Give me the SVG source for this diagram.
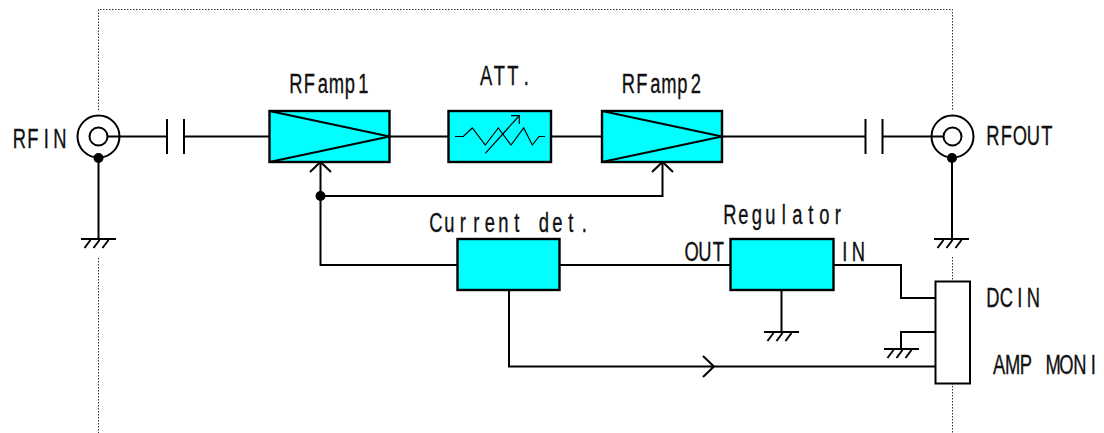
<svg xmlns="http://www.w3.org/2000/svg" width="1104" height="433" viewBox="0 0 1104 433">
<style>
.w{fill:none;stroke:#000;stroke-width:2}
.b{fill:#0ff;stroke:#000;stroke-width:2.4}
.d{fill:none;stroke:#333;stroke-width:1;stroke-dasharray:1.5 1.5}
.t{font-family:"Liberation Sans",Arial,sans-serif;font-size:27px;fill:#111;stroke:#111;stroke-width:.35}
.dot{fill:#000}
</style>
<defs>
<g id="gnd"><path class="w" d="M-17.500 0H17.500M-8 1L-14 9M1 1L-5 9M10 1L4 9"/></g>
<path id="amp" class="w" d="M0 0L120 25.500L0 51"/>
</defs>
<g id="boundary">
<path class="d" d="M98.500 110V9.500H952.500V110M98.500 258V433M952.500 257V281M952.500 383V433"/>
</g>
<g id="connectors">
<path class="w" d="M107 136.500H167M167 119V154M184 119V154M184 136.500H269"/>
<path class="w" d="M98.500 158V239"/>
<path class="w" d="M389 136.500H448M551 136.500H602M722 136.500H865.500M865.500 119V154M882.500 119V154M882.500 136.500H943"/>
<path class="w" d="M952 158V239"/>
<path class="w" d="M320.500 162V265H457M559 265H730M833 265H901V298H935"/>
<path class="w" d="M320.500 196H662.500V162"/>
<path class="w" d="M310 172L320.500 162L331 172M652 172L662.500 162L673 172"/>
<path class="w" d="M781.500 290V332M935 332H901V349"/>
<path class="w" d="M509 290V366.500H935M703 356L714 366.500L703 377"/>
<circle class="dot" cx="320.500" cy="196" r="5"/>
<use href="#gnd" x="781.500" y="332"/>
<use href="#gnd" x="901.500" y="349"/>
</g>
<g id="rfin">
<circle class="w" cx="98.500" cy="136.500" r="21"/><circle class="w" cx="98.500" cy="136.500" r="9"/>
<circle class="dot" cx="98.500" cy="158" r="5"/>
<use href="#gnd" x="98.500" y="239"/>
<text class="t" transform="translate(12.500 148) scale(.68 1)" x="0.500 21.850 46 60.050">RFIN</text>
</g>
<g id="rfout">
<circle class="w" cx="952.500" cy="136.500" r="21"/><circle class="w" cx="952.500" cy="136.500" r="9"/>
<circle class="dot" cx="952" cy="158" r="5"/>
<use href="#gnd" x="951.500" y="239"/>
<text class="t" transform="translate(986 145) scale(.68 1)" x="0.500 21.850 39.500 60.050 81.400">RFOUT</text>
</g>
<g id="rfamp1">
<rect class="b" x="269.500" y="111" width="120" height="51"/>
<use href="#amp" x="269.500" y="111"/>
<text class="t" transform="translate(289 93) scale(.68 1)" x="0.500 21.850 42.400 58.650 82.100 102">RFamp1</text>
</g>
<g id="att">
<rect class="b" x="448.500" y="111" width="102.500" height="51"/>
<path fill="none" stroke="#000" stroke-width="1.200" d="M455 136.500H463.300L472.300 128L485.300 145L498.300 128L511 145L523.700 128L532.300 145L539 136.500H545M485.300 153.300L519.300 115.700M511 115.700H519.300V124"/>
<text class="t" transform="translate(479 85) scale(.68 1)" x="1.300 21.850 41.700 65.850">ATT.</text>
</g>
<g id="rfamp2">
<rect class="b" x="602" y="111" width="120" height="51"/>
<use href="#amp" x="602" y="111"/>
<text class="t" transform="translate(621.500 93) scale(.68 1)" x="0.500 21.850 42.400 58.650 82.100 102">RFamp2</text>
</g>
<g id="current-det">
<rect class="b" x="457.500" y="239" width="102" height="51"/>
<text class="t" transform="translate(429 232) scale(.68 1)" x="0.500 22.550 45.300 65.150 82.100 102 125.400 138.950 161.500 181.350 204.800 224.650">Current det.</text>
</g>
<g id="regulator">
<rect class="b" x="730.500" y="239" width="103" height="51"/>
<text class="t" transform="translate(723 224) scale(.68 1)" x="0.500 22.550 42.400 62.250 86.400 101.950 125.400 141.650 164.400">Regulator</text>
<text class="t" transform="translate(684.500 261) scale(.68 1)" x="-0.200 20.350 41.700">OUT</text>
<text class="t" transform="translate(838 261) scale(.68 1)" x="6.300 20.350">IN</text>
</g>
<g id="connector">
<rect x="935.500" y="281.500" width="34.500" height="102" fill="#fff" stroke="#000" stroke-width="2"/>
<text class="t" transform="translate(986 307) scale(.68 1)" x="0.500 20.350 46 60.050">DCIN</text>
<text class="t" transform="translate(992 374) scale(.68 1)" x="1.300 18.950 41 59.550 78.500 99.050 119.600 145.250">AMP MONI</text>
</g>
</svg>
